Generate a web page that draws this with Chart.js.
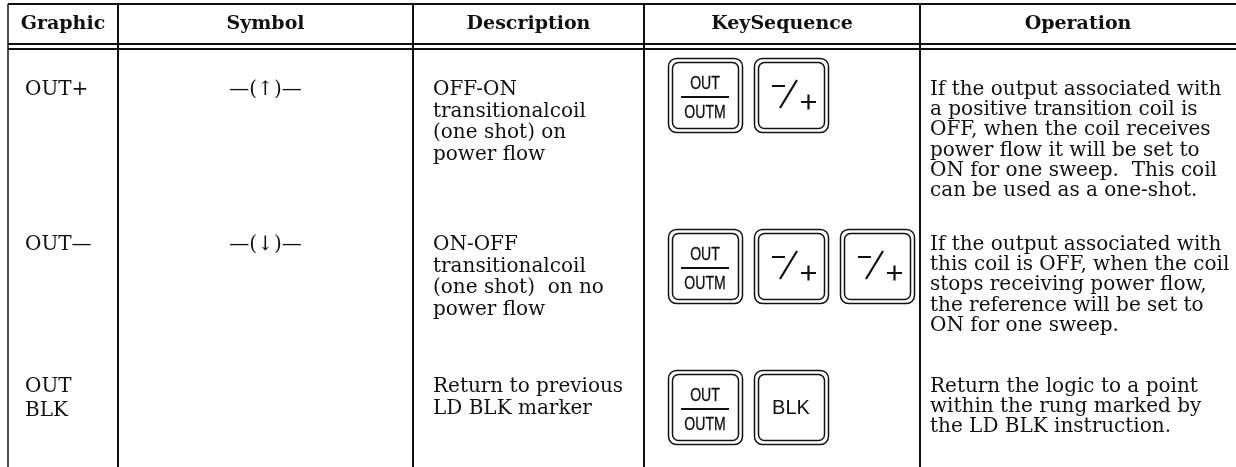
<!DOCTYPE html>
<html><head><meta charset="utf-8">
<script src="https://cdn.jsdelivr.net/npm/chart.js@4/dist/chart.umd.min.js"></script>
<style>html,body{margin:0;padding:0;background:#fff}#wrap{width:1236px;height:467px;position:relative}</style>
</head><body><div id="wrap"><canvas id="c" width="1236" height="467"></canvas></div>
<script>
// ---- table content ----
const headers = ['Graphic', 'Symbol', 'Description', 'KeySequence', 'Operation'];
const graphics = [['OUT+'], ['OUT\u2014'], ['OUT', 'BLK']];
const symbols = ['\u2014(\u2191)\u2014', '\u2014(\u2193)\u2014', ''];
const descriptions = [
  ['OFF-ON', 'transitionalcoil', '(one shot) on', 'power flow'],
  ['ON-OFF', 'transitionalcoil', '(one shot)  on no', 'power flow'],
  ['Return to previous', 'LD BLK marker']
];
const keySequences = [
  ['OUT|OUTM', '-/+'],
  ['OUT|OUTM', '-/+', '-/+'],
  ['OUT|OUTM', 'BLK']
];
const operations = [
  ['If the output associated with', 'a positive transition coil is', 'OFF, when the coil receives',
   'power flow it will be set to', 'ON for one sweep.  This coil', 'can be used as a one-shot.'],
  ['If the output associated with', 'this coil is OFF, when the coil', 'stops receiving power flow,',
   'the reference will be set to', 'ON for one sweep.'],
  ['Return the logic to a point', 'within the rung marked by', 'the LD BLK instruction.']
];

// ---- layout (positions in the chart's value space) ----
const layout = {
  colEdges: [8, 118, 413, 644, 920],
  topBorder: 4, headLines: [44, 49], headBaseline: 29,
  rowBaselines: [95, 250, 392],
  keyTops: [58, 229, 370],
  keyLeft: 668, keySize: 74, keyGap: 12,
  graphicX: 25, descX: 433, opX: 930,
  graphicLH: 24, descLH: 21.5, opLH: 20.2,
  bodyFont: '20px "DejaVu Serif"', headFont: 'bold 19px "DejaVu Serif"'
};

function rrect(ctx, x, y, w, h, r) {
  ctx.beginPath();
  ctx.moveTo(x + r, y);
  ctx.arcTo(x + w, y, x + w, y + h, r);
  ctx.arcTo(x + w, y + h, x, y + h, r);
  ctx.arcTo(x, y + h, x, y, r);
  ctx.arcTo(x, y, x + w, y, r);
  ctx.closePath();
  ctx.stroke();
}

const tablePlugin = {
  id: 'tableDraw',
  afterDraw(chart) {
    const ctx = chart.ctx, X = v => chart.scales.x.getPixelForValue(v), Y = v => chart.scales.y.getPixelForValue(v);
    const L = layout;
    const bottom = Y(467);
    ctx.save();
    ctx.strokeStyle = '#111'; ctx.fillStyle = '#111';
    // borders
    ctx.lineWidth = 2;
    ctx.beginPath(); ctx.moveTo(X(L.colEdges[0]), Y(L.topBorder)); ctx.lineTo(X(1236), Y(L.topBorder)); ctx.stroke();
    L.headLines.forEach(h => { ctx.beginPath(); ctx.moveTo(X(L.colEdges[0]), Y(h)); ctx.lineTo(X(1236), Y(h)); ctx.stroke(); });
    L.colEdges.forEach((c, i) => {
      ctx.lineWidth = i === 0 ? 1.5 : 2;
      ctx.beginPath(); ctx.moveTo(X(c), Y(L.topBorder)); ctx.lineTo(X(c), bottom); ctx.stroke();
    });
    // header
    const edges = L.colEdges.concat([1236]);
    ctx.font = L.headFont; ctx.textAlign = 'center'; ctx.textBaseline = 'alphabetic';
    headers.forEach((h, i) => ctx.fillText(h, X((edges[i] + edges[i + 1]) / 2), Y(L.headBaseline)));
    // body
    ctx.font = L.bodyFont;
    for (let r = 0; r < graphics.length; r++) {
      const b = L.rowBaselines[r];
      ctx.textAlign = 'left';
      graphics[r].forEach((t, k) => ctx.fillText(t, X(L.graphicX), Y(b + k * L.graphicLH)));
      descriptions[r].forEach((t, k) => ctx.fillText(t, X(L.descX), Y(b + k * L.descLH)));
      operations[r].forEach((t, k) => ctx.fillText(t, X(L.opX), Y(b + k * L.opLH)));
      ctx.textAlign = 'center';
      if (symbols[r]) ctx.fillText(symbols[r], X((edges[1] + edges[2]) / 2), Y(b));
      // keys
      keySequences[r].forEach((key, k) => {
        const x0 = X(L.keyLeft + k * (L.keySize + L.keyGap)), y0 = Y(L.keyTops[r]), s = L.keySize;
        ctx.lineWidth = 1.5;
        rrect(ctx, x0 + 0.5, y0 + 0.5, s, s, 8);
        rrect(ctx, x0 + 4.5, y0 + 4.5, s - 8, s - 8, 6);
        const cx = x0 + s / 2;
        if (key === 'OUT|OUTM') {
          ctx.save();
          ctx.font = '19px "Liberation Sans"';
          ctx.translate(cx, 0); ctx.scale(0.74, 1);
          ctx.lineWidth = 0.35;
          ctx.fillText('OUT', 0, y0 + 31); ctx.strokeText('OUT', 0, y0 + 31);
          ctx.fillText('OUTM', 0, y0 + 60); ctx.strokeText('OUTM', 0, y0 + 60);
          ctx.restore();
          ctx.lineWidth = 2.2;
          ctx.beginPath(); ctx.moveTo(cx - 24, y0 + 39); ctx.lineTo(cx + 24, y0 + 39); ctx.stroke();
        } else if (key === '-/+') {
          ctx.lineWidth = 2.2;
          ctx.beginPath();
          ctx.moveTo(x0 + 18, y0 + 28); ctx.lineTo(x0 + 31, y0 + 28);
          ctx.moveTo(x0 + 26, y0 + 50); ctx.lineTo(x0 + 43, y0 + 22);
          ctx.moveTo(x0 + 47, y0 + 44); ctx.lineTo(x0 + 62, y0 + 44);
          ctx.moveTo(x0 + 54.5, y0 + 36.5); ctx.lineTo(x0 + 54.5, y0 + 51.5);
          ctx.stroke();
        } else {
          ctx.font = '20px "Liberation Sans"';
          ctx.fillText(key, cx, y0 + 44);
        }
        ctx.font = L.bodyFont;
      });
    }
    ctx.restore();
  }
};

new Chart(document.getElementById('c'), {
  type: 'scatter',
  data: { datasets: [{ data: [], showLine: false }] },
  options: {
    responsive: false, animation: false, events: [],
    layout: { padding: 0 },
    plugins: { legend: { display: false }, tooltip: { enabled: false } },
    scales: {
      x: { type: 'linear', min: 0, max: 1236, display: false },
      y: { type: 'linear', min: 0, max: 467, reverse: true, display: false }
    }
  },
  plugins: [tablePlugin]
});
</script>
</body></html>
